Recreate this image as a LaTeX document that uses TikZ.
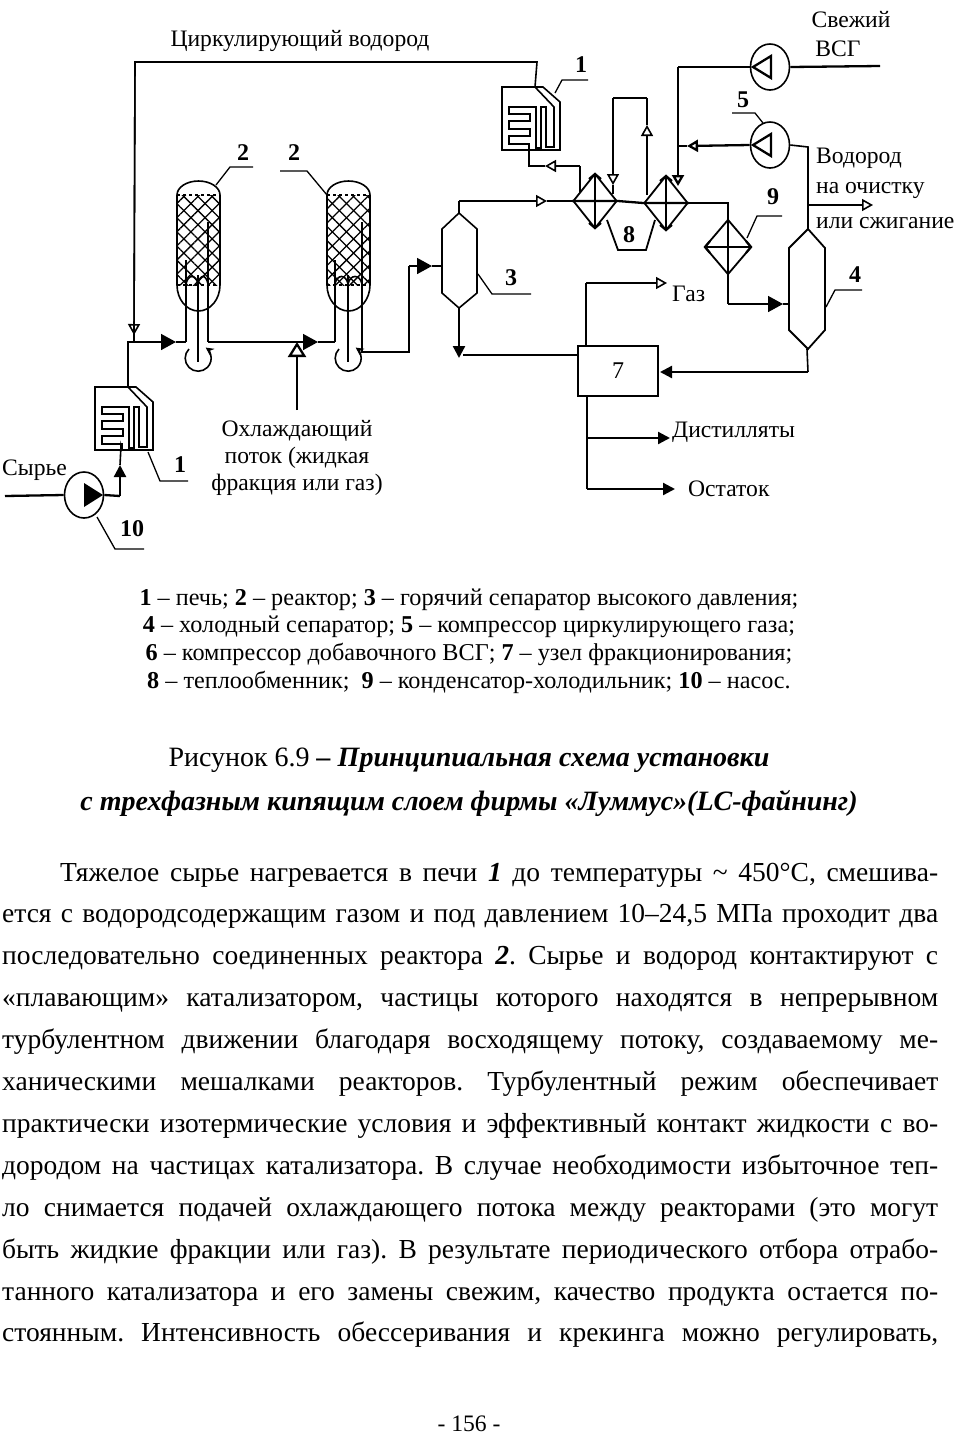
\documentclass[tikz,border=0pt]{standalone}
\usepackage{fontspec}
\setmainfont{Liberation Serif}
\usetikzlibrary{shapes.geometric, arrows.meta, patterns.meta, calc}
\frenchspacing
\tikzset{
  potok/.style={line width=1.6pt},
  zhirn/.style={line width=2.3pt},
  vynoska/.style={line width=1.3pt},
  otkr/.style={-{Triangle[open,length=11pt,width=12pt]}},
  chern/.style={-{Triangle[length=12pt,width=12pt]}},
  bolsh/.style={-{Triangle[length=15pt,width=16pt]}},
  dvoyn/.style={line width=2.2pt,{Straight Barb[length=5pt,width=12pt]}-{Straight Barb[length=5pt,width=12pt]}},
  teplo/.style={diamond, aspect=0.8, draw, line width=1.8pt, inner sep=0, minimum width=44pt, minimum height=55pt},
  mashina/.style={ellipse, draw, line width=1.6pt, inner sep=0, minimum width=39pt, minimum height=46pt},
  sloy/.style={rectangle, inner sep=0, minimum width=43pt, minimum height=90pt,
               pattern={Lines[angle=45,distance=10pt,line width=1.3pt]},
               postaction={pattern={Lines[angle=-45,distance=10pt,line width=1.3pt]}}},
  kolonna/.style={rectangle, inner sep=0},
  uzel/.style={rectangle, draw, line width=1.6pt, minimum width=80pt, minimum height=50pt, font=\fontsize{24}{28}\selectfont},
  nomer/.style={font=\fontsize{24}{28}\selectfont\bfseries, inner sep=0},
  podp/.style={font=\fontsize{23.6}{27}\selectfont, inner sep=0},
  legenda/.style={font=\fontsize{24.2}{27.7}\selectfont, inner sep=0, align=center},
  zagolovok/.style={font=\fontsize{28}{44}\selectfont, inner sep=0, align=center},
  stroka/.style={font=\fontsize{27.5}{30}\selectfont, inner sep=0, anchor=base west},
  pics/pech/.style={code={
    \draw[potok] (0,0) -- (41,0) -- (58,15) -- (58,63) -- (0,63) -- cycle;
    \draw[potok] (27,63) -- (27,57) -- (7,57) -- (7,49) -- (28,49) -- (28,42) -- (7,42) -- (7,34)
      -- (28,34) -- (28,27) -- (7,27) -- (7,20) -- (34,20) -- (34,61) -- (39,61) -- (39,20)
      -- (44,20) -- (44,60) -- (52,60) -- (52,20) -- (33,0);
    \coordinate (-vyh) at (33,0);
    \coordinate (-vh) at (27,63);
  }},
  pics/reaktor/.style n args={3}{code={
    \node[sloy] (-sloy) at (21.5,45) {};
    \draw[potok] (0,0) arc (180:360:21.5 and 14);
    \draw[potok] (0,90) arc (180:0:21.5 and 26);
    \draw[zhirn] (0,0) -- (0,90);
    \draw[potok] (43,0) -- (43,90);
    \draw[potok, dashed] (0,0) -- (43,0);
    \draw[zhirn, dashed] (0,90) -- (43,90);
    \draw[zhirn] (#1,65) -- (#1,147);
    \draw[potok] (#2,80) -- (#2,167);
    \draw[potok] (#3,27) -- (#3,147);
    \draw[potok] (#1,89) .. controls +(2,-10) and +(-2,-10) .. (#2,89)
      .. controls +(2,-10) and +(-2,-10) .. (#3,89);
    \draw[potok,-{Stealth[length=8pt,width=8pt]}] (#2-9,154) arc (225:-55:13);
    \coordinate (-vh) at (#1,147);
    \coordinate (-vyh) at (#3,147);
  }}
}
\begin{document}
\begin{tikzpicture}[x=1pt,y=-1pt]
  \useasboundingbox (0,0) rectangle (957,1441);
  % apparatus
  \pic (pecha) at (95,387) {pech};
  \pic (pechb) at (502,87) {pech};
  \pic (reaka) at (177,195) {reaktor={9}{21}{31}};
  \pic (reakb) at (327,195) {reaktor={8}{21}{35}};
  \node (hxa) [teplo] at (595,201) {};
  \node (hxb) [teplo] at (666,203) {};
  \node (hxc) [teplo, minimum width=47pt] at (728,247) {};
  \node (nasos) [mashina] at (84,495) {};
  \node (kompa) [mashina] at (770,67) {};
  \node (kompb) [mashina] at (770,145) {};
  \node (uzel7) [uzel] at (618,371) {7};
  \node (sepa) [kolonna] at (459,260) {};
  \node (sepb) [kolonna] at (807,289) {};
  \draw[potok] (459,213) -- (477,229) -- (477,293) -- (459,308) -- (442,293) -- (442,229) -- cycle;
  \draw[line width=1.8pt] (808,229) -- (825,248) -- (825,330) -- (808,349) -- (789,330) -- (789,248) -- cycle;
  \draw[line width=1.8pt] (607,220) -- (618,250) -- (646,250) -- (655,220);
  \fill (nasos.center) ++(0,-12) -- ++(19,12) -- ++(-19,12) -- cycle;
  \draw[zhirn] (kompa.center) ++(-17,0) -- ++(18,-11) -- ++(0,22) -- cycle;
  \draw[zhirn] (kompb.center) ++(-17,0) -- ++(18,-11) -- ++(0,22) -- cycle;
  \draw[dvoyn] (hxa.north) -- (hxa.south);
  \draw[dvoyn] (hxb.north) -- (hxb.south);
  \draw[dvoyn] (hxc.west) -- (hxc.east);
  % junctions
  \foreach \n/\x/\y in {tsa/135/62, tsb/537/62, tsc/134/335, tsd/134/342, tse/128/342, rea/176/342,
      rta/318/342, ohl/297/342, ohn/297/410, rva/362/352, rvb/409/352, rvc/409/266, rvd/432/266, rve/442/266,
      sa/459/201, sb/547/201, hd/728/203, he/728/304, hf/783/304, hg/789/304,
      pa/580/193, pb/580/166, pc/545/166, pd/529/166,
      la/613/185, lb/613/98, lc/647/98, ld/647/125, le/647/195, lf/613/194,
      ka/678/67, kb/678/186, kc/687/146, kd/678/146,
      va/808/147, vb/808/205, vc/873/205, vd/880/66,
      sc/808/229, sd/808/372, se/660/372, sf/459/358, sg/578/355,
      ga/586/346, gb/586/283, gc/667/283, da/587/396, db/587/489, dc/675/489, dd/587/438, de/670/438,
      na/5/496, nb/120/496, nc/120/465, nd/121/446}
    \coordinate (\n) at (\x,\y);
  % flows
  \draw[potok] (pechb-vyh) -- (tsb) -- (tsa) -- (tsc);
  \draw[potok, otkr] (tsa) -- (tsc);
  \draw[potok] (tsc) -- (tsd);
  \draw[potok] (pecha-vyh) -- (tse) -- (tsd);
  \draw[potok, bolsh] (tsd) -- (rea);
  \draw[potok] (rea) -- (reaka-vh);
  \draw[potok, bolsh] (reaka-vyh) -- (rta);
  \draw[potok] (rta) -- (reakb-vh);
  \draw[zhirn, -{Triangle[open,length=15pt,width=18pt]}] (ohn) -- (ohl);
  \draw[potok] (reakb-vyh) -- (rva) -- (rvb) -- (rvc);
  \draw[potok, bolsh] (rvc) -- (rvd);
  \draw[potok] (rvd) -- (rve);
  \draw[potok] (sepa |- 0,213) -- (sa);
  \draw[potok, otkr] (sa) -- (sb);
  \draw[potok] (sb) -- (hxa.west);
  \draw[zhirn] (hxa.west) -- (hxa.east) -- (hxb.west) -- (hxb.east);
  \draw[potok] (hxb.east) -- (hd) -- (hxc.north);
  \draw[potok] (hxc.north) -- (hxc.south) -- (he);
  \draw[potok, bolsh] (he) -- (hf);
  \draw[potok] (hf) -- (hg);
  \draw[potok] (pa) -- (pb);
  \draw[potok, otkr] (pb) -- (pc);
  \draw[potok] (pc) -- (pd) -- (pechb-vh);
  \draw[potok, otkr] (lb) -- (la);
  \draw[potok] (la) -- (lf);
  \draw[potok] (lb) -- (lc);
  \draw[potok, otkr] (le) -- (ld);
  \draw[potok] (ld) -- (lc);
  \draw[zhirn] (kompa.west) -- (ka);
  \draw[zhirn, otkr] (ka) -- (kb);
  \draw[zhirn, otkr] (kompb.west) -- (kc);
  \draw[zhirn] (kc) -- (kd);
  \draw[potok] (sc) -- (va) -- (kompb.east);
  \draw[potok, otkr] (vb) -- (vc);
  \draw[zhirn] (kompa.east) -- (vd);
  \draw[potok] (sepb |- 0,349) -- (sd);
  \draw[zhirn, chern] (sd) -- (se);
  \draw[zhirn, chern] (sepa |- 0,308) -- (sf);
  \draw[potok] (sf) ++(4,-3) -- (sg);
  \draw[potok] (ga) -- (gb);
  \draw[potok, otkr] (gb) -- (gc);
  \draw[zhirn] (da) -- (db);
  \draw[zhirn, chern] (db) -- (dc);
  \draw[zhirn, chern] (dd) -- (de);
  \draw[zhirn] (na) -- (nasos.west);
  \draw[zhirn] (nasos.east) -- (nb);
  \draw[zhirn, chern] (nb) -- (nc);
  \draw[potok] (nc) -- (nd) -- (pecha-vh);
  % leaders
  \draw[vynoska] (253,167) -- (230,167) -- (216,185);
  \draw[vynoska] (280,171) -- (307,171) -- (327,195);
  \draw[vynoska] (588,80) -- (562,80) -- (555,93);
  \draw[vynoska] (732,113) -- (755,113) -- (763,123);
  \draw[vynoska] (782,216) -- (757,216) -- (747,238);
  \draw[vynoska] (862,290) -- (835,290) -- (826,307);
  \draw[vynoska] (531,294) -- (492,294) -- (478,274);
  \draw[vynoska] (188,481) -- (160,481) -- (148,452);
  \draw[vynoska] (144,549) -- (115,549) -- (97,517);
  % numbers
  \node (n1a) [nomer] at (180,465) {1};
  \node (n1b) [nomer] at (581,65) {1};
  \node (n2a) [nomer] at (243,153) {2};
  \node (n2b) [nomer] at (294,153) {2};
  \node (n3) [nomer] at (511,278) {3};
  \node (n4) [nomer] at (855,275) {4};
  \node (n5) [nomer] at (743,100) {5};
  \node (n8) [nomer] at (629,235) {8};
  \node (n9) [nomer] at (773,197) {9};
  \node (n10) [nomer] at (132,529) {10};
  % labels
  \node (cirk) [podp] at (300,41) {Циркулирующий водород};
  \node (svezh) [podp] at (851,20) {Свежий};
  \node (vsg) [podp] at (838,49) {ВСГ};
  \node (vodor) [podp, anchor=west] at (816,158) {Водород};
  \node (ochist) [podp, anchor=west] at (816,190) {на очистку};
  \node (szhig) [podp, anchor=west] at (816,223) {или сжигание};
  \node (gaz) [podp, anchor=west] at (672,294) {Газ};
  \node (dist) [podp, anchor=west] at (672,432) {Дистилляты};
  \node (ostat) [podp, anchor=west] at (688,489) {Остаток};
  \node (syrye) [podp, anchor=west] at (2,470) {Сырье};
  \node (ohlazh) [podp, align=center] at (297,458) {Охлаждающий\\поток (жидкая\\фракция или газ)};
  % text
  \node (leg) [legenda] at (469,641) {\textbf{1} – печь; \textbf{2} – реактор; \textbf{3} – горячий сепаратор высокого давления;\\
    \textbf{4} – холодный сепаратор; \textbf{5} – компрессор циркулирующего газа;\\
    \textbf{6} – компрессор добавочного ВСГ; \textbf{7} – узел фракционирования;\\
    \textbf{8} – теплообменник;\ \ \textbf{9} – конденсатор-холодильник; \textbf{10} – насос.};
  \node (zag) [zagolovok] at (469,782) {Рисунок 6.9 \textbf{\textit{– Принципиальная схема установки}}\\
    \textbf{\textit{с трехфазным кипящим слоем фирмы «Луммус»(LC-файнинг)}}};
  \node (abz) [stroka] at (60,881) {\makebox[878pt][s]{Тяжелое сырье нагревается в печи \textbf{\textit{1}} до температуры \textasciitilde{} 450°С, смешива-}};
  \foreach \t [count=\i] in {
      {ется с водородсодержащим газом и под давлением 10–24,5 МПа проходит два},
      {последовательно соединенных реактора \textbf{\textit{2}}. Сырье и водород контактируют с},
      {«плавающим» катализатором, частицы которого находятся в непрерывном},
      {турбулентном движении благодаря восходящему потоку, создаваемому ме-},
      {ханическими мешалками реакторов. Турбулентный режим обеспечивает},
      {практически изотермические условия и эффективный контакт жидкости с во-},
      {дородом на частицах катализатора. В случае необходимости избыточное теп-},
      {ло снимается подачей охлаждающего потока между реакторами (это могут},
      {быть жидкие фракции или газ). В результате периодического отбора отрабо-},
      {танного катализатора и его замены свежим, качество продукта остается по-},
      {стоянным. Интенсивность обессеривания и крекинга можно регулировать,}}
    \node (str\i) [stroka] at (2,{881+\i*41.9}) {\makebox[936pt][s]{\t}};
  \node (stran) [podp] at (469,1424) {- 156 -};
\end{tikzpicture}
\end{document}
